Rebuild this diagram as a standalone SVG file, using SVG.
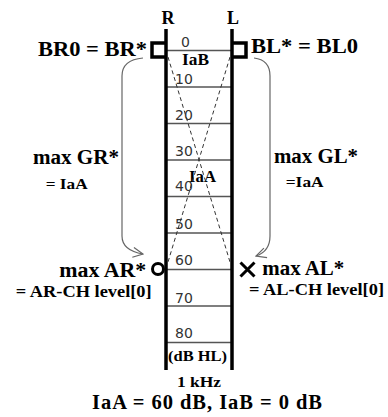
<svg xmlns="http://www.w3.org/2000/svg" width="388" height="417" viewBox="0 0 388 417">
  <style>
    .b { font-family: 'Liberation Serif', 'Times New Roman', 'DejaVu Serif', serif; font-weight: bold; fill: #000; }
    .scale { font-family: 'DejaVu Sans', sans-serif; font-size: 14px; fill: #333; }
    .rail { stroke: #000; stroke-width: 3.5; fill: none; }
    .tick { stroke: #555; stroke-width: 1.3; }
    .dash { stroke: #333; stroke-width: 1; stroke-dasharray: 4 3; fill: none; }
    .curve { stroke: #666; stroke-width: 1.2; fill: none; marker-end: url(#open); }
    .mark { stroke: #000; stroke-width: 3; fill: #fff; }
  </style>
  <defs>
    <marker id="open" viewBox="0 0 12 12" refX="11" refY="6" markerWidth="12" markerHeight="12" markerUnits="userSpaceOnUse" orient="auto">
      <path d="M1,1 L11,6 L1,11" fill="none" stroke="#666" stroke-width="1.2"/>
    </marker>
  </defs>
  <rect width="388" height="417" fill="#fff"/>

  <!-- level scale between the two ear rails -->
  <g id="scale">
    <g class="tick">
      <line x1="166" y1="50.5" x2="232" y2="50.5"/>
      <line x1="166" y1="87" x2="232" y2="87"/>
      <line x1="166" y1="123.5" x2="232" y2="123.5"/>
      <line x1="166" y1="160" x2="232" y2="160"/>
      <line x1="166" y1="196.5" x2="232" y2="196.5"/>
      <line x1="166" y1="233" x2="232" y2="233"/>
      <line x1="166" y1="269.5" x2="232" y2="269.5"/>
      <line x1="166" y1="306" x2="232" y2="306"/>
      <line x1="166" y1="342.5" x2="232" y2="342.5"/>
    </g>
    <text class="scale" x="181" y="47">0</text>
    <text class="scale" x="175" y="83.5">10</text>
    <text class="scale" x="175" y="120">20</text>
    <text class="scale" x="175" y="156">30</text>
    <text class="scale" x="175" y="191">40</text>
    <text class="scale" x="175" y="228.5">50</text>
    <text class="scale" x="175" y="265">60</text>
    <text class="scale" x="175" y="303">70</text>
    <text class="scale" x="175" y="338">80</text>
    <text class="b" x="182" y="65" font-size="16" textLength="27" lengthAdjust="spacingAndGlyphs">IaB</text>
    <text class="b" x="189" y="181.5" font-size="17" textLength="27" lengthAdjust="spacingAndGlyphs">IaA</text>
    <text class="b" x="168" y="361" font-size="15" textLength="59" lengthAdjust="spacingAndGlyphs">(dB HL)</text>
  </g>

  <g id="rail-R">
    <line class="rail" x1="166" y1="29" x2="166" y2="370"/>
    <text class="b" x="168" y="23.5" font-size="18" text-anchor="middle">R</text>
  </g>
  <g id="rail-L">
    <line class="rail" x1="232" y1="29" x2="232" y2="370"/>
    <text class="b" x="233" y="24" font-size="18" text-anchor="middle">L</text>
  </g>

  <!-- crossing interaural lines and masking curves -->
  <g id="connectors">
    <line class="dash" x1="168" y1="57" x2="230" y2="262"/>
    <line class="dash" x1="230" y1="57" x2="168" y2="262"/>
    <path class="curve" d="M143,58 C131,59 122,64 122,76 V236 C122,247 131,252 143,254"/>
    <path class="curve" d="M254,58 C263,59 270,64 270,76 V236 C270,247 265,253 256,256"/>
  </g>

  <g id="BR0">
    <path class="rail" stroke-width="3" d="M166,43 H152 V57 H166"/>
    <text class="b" x="38" y="56" font-size="20" textLength="109" lengthAdjust="spacingAndGlyphs">BR0 = BR*</text>
  </g>
  <g id="BL0">
    <path class="rail" stroke-width="3" d="M232,43 H246 V57 H232"/>
    <text class="b" x="251" y="52.5" font-size="20" textLength="107" lengthAdjust="spacingAndGlyphs">BL* = BL0</text>
  </g>

  <g id="GR">
    <text class="b" x="33" y="164.3" font-size="20" textLength="86" lengthAdjust="spacingAndGlyphs">max GR*</text>
    <text class="b" x="45.7" y="189" font-size="15" textLength="42" lengthAdjust="spacingAndGlyphs">= IaA</text>
  </g>
  <g id="GL">
    <text class="b" x="274" y="163.3" font-size="20" textLength="84" lengthAdjust="spacingAndGlyphs">max GL*</text>
    <text class="b" x="285.7" y="187.3" font-size="15" textLength="38" lengthAdjust="spacingAndGlyphs">=IaA</text>
  </g>

  <g id="AR">
    <circle class="mark" cx="158" cy="269" r="5.5"/>
    <text class="b" x="59.3" y="277" font-size="20" textLength="87" lengthAdjust="spacingAndGlyphs">max AR*</text>
    <text class="b" x="15.7" y="297" font-size="17.5" textLength="136" lengthAdjust="spacingAndGlyphs">= AR-CH level[0]</text>
  </g>
  <g id="AL">
    <path class="mark" fill="none" d="M240.5,262.5 L254.5,276.5 M254.5,262.5 L240.5,276.5"/>
    <text class="b" x="262.3" y="275" font-size="20" textLength="82" lengthAdjust="spacingAndGlyphs">max AL*</text>
    <text class="b" x="249" y="295" font-size="17.5" textLength="135" lengthAdjust="spacingAndGlyphs">= AL-CH level[0]</text>
  </g>

  <g id="caption">
    <text class="b" x="177" y="386.5" font-size="15" textLength="44" lengthAdjust="spacingAndGlyphs">1 kHz</text>
    <text class="b" x="92" y="408.5" font-size="20.5" textLength="230">IaA = 60 dB, IaB = 0 dB</text>
  </g>
</svg>
